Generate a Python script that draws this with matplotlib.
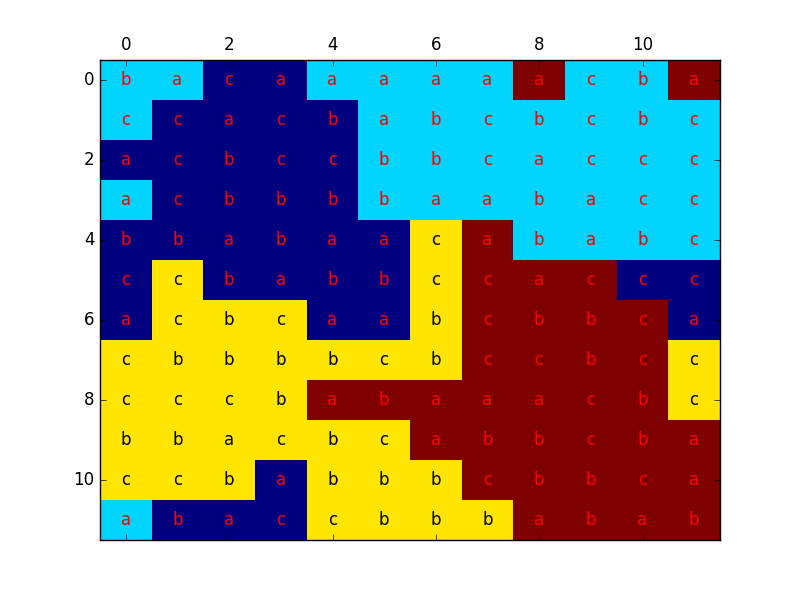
import numpy as np
import matplotlib
matplotlib.use('Agg')
import matplotlib.pyplot as plt

plt.style.use('classic')

# cell category: 0 navy, 1 cyan, 2 yellow, 3 maroon (jet colormap)
categories = [
    [1, 1, 0, 0, 1, 1, 1, 1, 3, 1, 1, 3],
    [1, 0, 0, 0, 0, 1, 1, 1, 1, 1, 1, 1],
    [0, 0, 0, 0, 0, 1, 1, 1, 1, 1, 1, 1],
    [1, 0, 0, 0, 0, 1, 1, 1, 1, 1, 1, 1],
    [0, 0, 0, 0, 0, 0, 2, 3, 1, 1, 1, 1],
    [0, 2, 0, 0, 0, 0, 2, 3, 3, 3, 0, 0],
    [0, 2, 2, 2, 0, 0, 2, 3, 3, 3, 3, 0],
    [2, 2, 2, 2, 2, 2, 2, 3, 3, 3, 3, 2],
    [2, 2, 2, 2, 3, 3, 3, 3, 3, 3, 3, 2],
    [2, 2, 2, 2, 2, 2, 3, 3, 3, 3, 3, 3],
    [2, 2, 2, 0, 2, 2, 2, 3, 3, 3, 3, 3],
    [1, 0, 0, 0, 2, 2, 2, 2, 3, 3, 3, 3],
]

# one string per row, one letter per cell
letters = [
    "bacaaaaaacba",
    "ccacbabcbcbc",
    "acbccbbcaccc",
    "acbbbbaabacc",
    "bbabaacababc",
    "ccbabbccaccc",
    "acbcaabcbbca",
    "cbbbbcbccbcc",
    "cccbabaaacbc",
    "bbacbcabbcba",
    "ccbabbbcbbca",
    "abaccbbbabab",
]

data = np.array(categories)

fig = plt.figure(figsize=(8, 6), dpi=100)
ax = fig.add_subplot(111)
ax.matshow(data, cmap='jet', aspect='auto', interpolation='nearest')

for i in range(data.shape[0]):
    for j in range(data.shape[1]):
        col = 'black' if data[i, j] == 2 else 'red'
        ax.text(j, i, letters[i][j], ha='center', va='center', color=col)

ax.set_xticks(range(0, 12, 2))
ax.set_yticks(range(0, 12, 2))

fig.savefig('out.png', dpi=100, facecolor='white')
